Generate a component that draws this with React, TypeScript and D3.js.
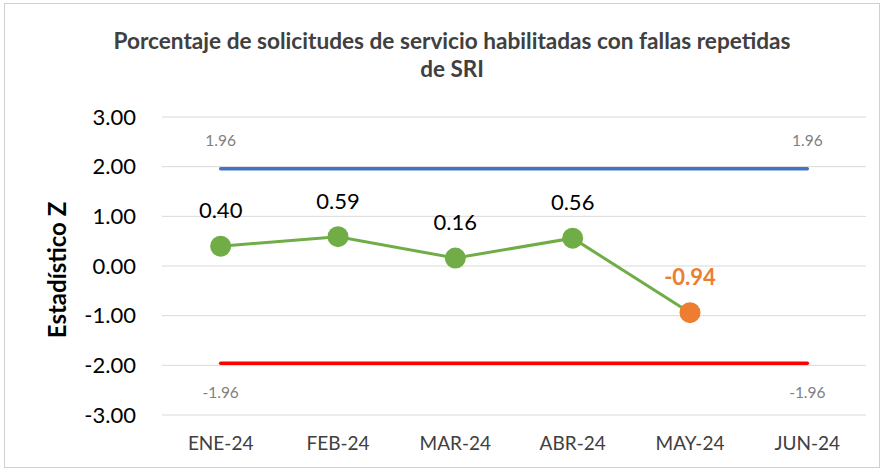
import React from "react";
import * as d3 from "d3";

const months = ["ENE-24", "FEB-24", "MAR-24", "ABR-24", "MAY-24", "JUN-24"];
const zValues = [0.4, 0.59, 0.16, 0.56, -0.94];
const upperLimit = [1.96, 1.96, 1.96, 1.96, 1.96, 1.96];
const lowerLimit = [-1.96, -1.96, -1.96, -1.96, -1.96, -1.96];
const yTicks = [3, 2, 1, 0, -1, -2, -3];

const W = 883;
const H = 470;
const margin = { top: 117, right: 17, bottom: 55, left: 162 };
const FONT = "Lato, Carlito, Calibri, sans-serif";

const App = () => {
    const innerW = W - margin.left - margin.right;
    const innerH = H - margin.top - margin.bottom;

    const x = d3.scaleBand().domain(months).range([0, innerW]);
    const y = d3.scaleLinear().domain([-3, 3]).range([innerH, 0]);
    const cx = (m: string) => (x(m) || 0) + x.bandwidth() / 2;

    const line = d3
        .line<number>()
        .x((_, i) => cx(months[i]))
        .y((d) => y(d));

    const lastIdx = zValues.length - 1;

    return (
        <svg
            width={W}
            height={H}
            style={{ position: "absolute", left: 0, top: 0, fontFamily: FONT }}
        >
            <rect x={0} y={0} width={W} height={H} fill="#fff" />
            <rect x={4.5} y={3.5} width={875} height={464} fill="#fff" stroke="#d0d0d0" strokeWidth={1} />

            <text x={452} y={49} textAnchor="middle" fontSize={22.5} fontWeight="bold" fill="#404040" textLength={677} lengthAdjust="spacingAndGlyphs">
                Porcentaje de solicitudes de servicio habilitadas con fallas repetidas
            </text>
            <text x={452} y={77} textAnchor="middle" fontSize={22.5} fontWeight="bold" fill="#404040">
                de SRI
            </text>

            <text
                transform={`translate(66,270) rotate(-90)`}
                textAnchor="middle"
                fontSize={24}
                fontWeight="bold"
                fill="#000"
            >
                Estadístico Z
            </text>

            <g transform={`translate(${margin.left},${margin.top})`}>
                {yTicks.map((t) => (
                    <g key={t}>
                        <line x1={0} x2={innerW} y1={y(t)} y2={y(t)} stroke="#d9d9d9" strokeWidth={1} />
                        <text x={-26} y={y(t)} dy="0.35em" textAnchor="end" fontSize={22} fill="#000">
                            {t.toFixed(2)}
                        </text>
                    </g>
                ))}

                {months.map((m) => (
                    <text key={m} x={cx(m)} y={innerH + 35} textAnchor="middle" fontSize={19} fill="#404040">
                        {m}
                    </text>
                ))}

                <path d={line(upperLimit) || ""} fill="none" stroke="#4472C4" strokeWidth={3.5} strokeLinecap="round" />
                <path d={line(lowerLimit) || ""} fill="none" stroke="#FF0000" strokeWidth={3.5} strokeLinecap="round" />

                {[0, upperLimit.length - 1].map((i) => (
                    <g key={"lim" + i}>
                        <text x={cx(months[i])} y={y(upperLimit[i]) - 23} textAnchor="middle" fontSize={15.5} fill="#808080">
                            {upperLimit[i].toFixed(2)}
                        </text>
                        <text x={cx(months[i])} y={y(lowerLimit[i]) + 35} textAnchor="middle" fontSize={15.5} fill="#808080">
                            {lowerLimit[i].toFixed(2)}
                        </text>
                    </g>
                ))}

                <path d={line(zValues) || ""} fill="none" stroke="#70AD47" strokeWidth={3} />

                {zValues.map((v, i) => {
                    const isLast = i === lastIdx;
                    return (
                        <g key={months[i]}>
                            <circle cx={cx(months[i])} cy={y(v)} r={10.5} fill={isLast ? "#ED7D31" : "#70AD47"} />
                            <text
                                x={cx(months[i])}
                                y={y(v) - 28}
                                textAnchor="middle"
                                fontSize={22}
                                fontWeight={isLast ? "bold" : "normal"}
                                fill={isLast ? "#ED7D31" : "#000"}
                            >
                                {v.toFixed(2)}
                            </text>
                        </g>
                    );
                })}
            </g>
        </svg>
    );
};

export default App;
